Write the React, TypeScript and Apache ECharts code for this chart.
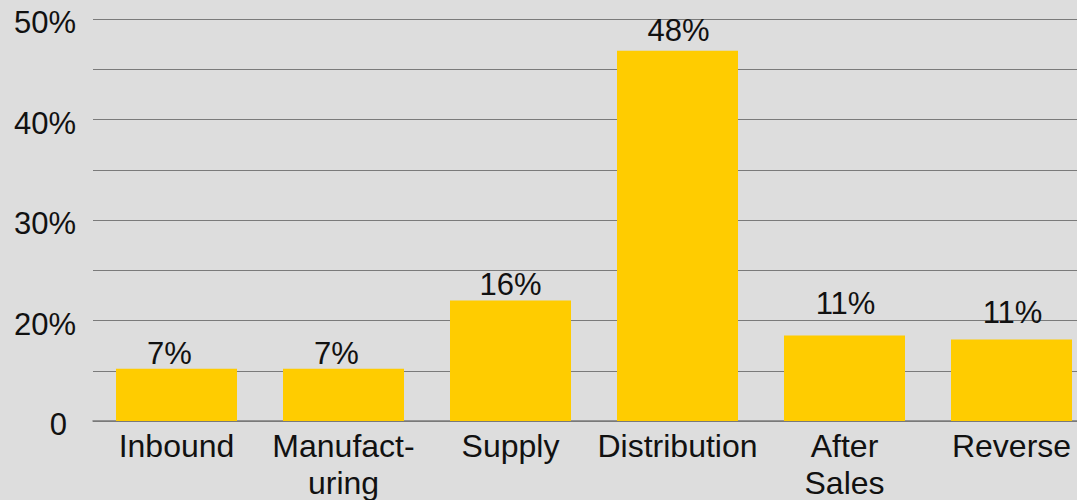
import React, { useEffect, useRef } from "react";
import * as echarts from "echarts";

const categories = ["Inbound", "Manufact-\nuring", "Supply", "Distribution", "After\nSales", "Reverse"];
// bar heights, in gridline steps (one step per gridline)
const barHeights = [1.04, 1.04, 2.4, 7.37, 1.7, 1.62];
// value labels printed above the bars (percent)
const valueLabels = [7, 7, 16, 48, 11, 11];
// tick labels, one per gridline from the bottom
const tickLabels = ["0", "", "20%", "", "30%", "", "40%", "", "50%"];

export default function App() {
  const ref = useRef<HTMLDivElement>(null);
  useEffect(() => {
    if (!ref.current) return;
    const chart = echarts.init(ref.current, undefined, { renderer: "svg" });
    const labelGaps = [0, 0, 0, 5, 17, 12];
    const labelShift = [-7, -7, 0, 1, 1, 1];
    chart.setOption({
      animation: false,
      backgroundColor: "#dddddd",
      textStyle: { fontFamily: "Liberation Sans, Arial, sans-serif" },
      grid: { left: 93, top: 19, width: 1002, height: 402, outerBoundsMode: "none" },
      xAxis: {
        type: "category",
        data: categories,
        axisLine: { lineStyle: { color: "#7a7a7a", width: 1.5 } },
        axisTick: { length: 7, lineStyle: { color: "#7a7a7a" } },
        axisLabel: {
          fontSize: 32,
          lineHeight: 37,
          color: "#111111",
          margin: 6,
          interval: 0,
        },
      },
      yAxis: {
        type: "value",
        min: 0,
        max: tickLabels.length - 1,
        interval: 1,
        axisLine: { show: false },
        axisTick: { show: false },
        splitLine: { lineStyle: { color: "#7a7a7a", width: 1 } },
        axisLabel: {
          fontSize: 31,
          color: "#111111",
          margin: 17,
          padding: [7, 0, 0, 0],
          formatter: (v: number) => {
            const t = tickLabels[Math.round(v)] ?? "";
            return t === "0" ? "{z|0}" : t;
          },
          rich: { z: { fontSize: 31, color: "#111111", padding: [0, 9, 0, 0] } },
        },
      },
      series: [
        {
          type: "bar",
          barWidth: 121,
          itemStyle: { color: "#ffcc00" },
          data: barHeights.map((h, i) => ({
            value: h,
            label: {
              show: true,
              position: "top",
              distance: labelGaps[i],
              offset: [labelShift[i], 0],
              formatter: valueLabels[i] + "%",
              fontSize: 31,
              color: "#111111",
            },
          })),
        },
      ],
    });
    return () => chart.dispose();
  }, []);
  return <div ref={ref} style={{ position: "absolute", left: 0, top: 0, width: 1077, height: 500 }} />;
}
